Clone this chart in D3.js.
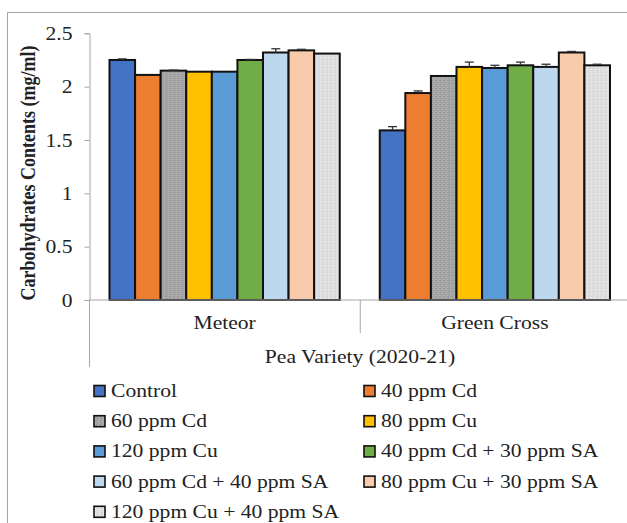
<!DOCTYPE html>
<html>
<head>
<meta charset="utf-8">
<script src="https://cdn.jsdelivr.net/npm/d3@7/dist/d3.min.js"></script>
<style>
  html, body { margin: 0; padding: 0; background: #fff; }
  svg { display: block; }
  text { font-family: "Liberation Serif", "Times New Roman", serif; fill: #222; }
</style>
</head>
<body>
<svg id="chart" width="627" height="523"></svg>
<script>
// Pea varieties on the x axis
const varieties = ["Meteor", "Green Cross"];

// Treatments (one bar per treatment in each variety)
const treatments = [
  "Control", "40 ppm Cd", "60 ppm Cd", "80 ppm Cu", "120 ppm Cu",
  "40 ppm Cd + 30 ppm SA", "60 ppm Cd + 40 ppm SA",
  "80 ppm Cu + 30 ppm SA", "120 ppm Cu + 40 ppm SA"
];

// Carbohydrate contents (mg/ml)
const meteorValues     = [2.25, 2.11, 2.15, 2.14, 2.14, 2.25, 2.32, 2.34, 2.31];
const greenCrossValues = [1.59, 1.94, 2.10, 2.185, 2.175, 2.20, 2.185, 2.32, 2.20];

// Upper error bars
const meteorErrors     = [0.01, 0.0, 0.005, 0.0, 0.0, 0.005, 0.035, 0.01, 0.0];
const greenCrossErrors = [0.035, 0.02, 0.0, 0.045, 0.025, 0.03, 0.025, 0.01, 0.01];

const yTicks = [0, 0.5, 1, 1.5, 2, 2.5];

const colors = ["#4472C4", "#ED7D31", "#A5A5A5", "#FFC000", "#5B9BD5",
                "#70AD47", "#BDD7EE", "#F8CBAD", "#DEDEDE"];

const STRETCH = 1.2;   // the chart's type is set slightly wide

const svg = d3.select("#chart");

// textures for the two grey fills
const defs = svg.append("defs");
function speckle(id, base, dots) {
  const p = defs.append("pattern").attr("id", id)
    .attr("width", 4).attr("height", 4).attr("patternUnits", "userSpaceOnUse");
  p.append("rect").attr("width", 4).attr("height", 4).attr("fill", base);
  dots.forEach(([dx, dy, c]) => p.append("rect").attr("x", dx).attr("y", dy)
    .attr("width", 1).attr("height", 1).attr("fill", c));
}
speckle("tex-grey", "#A5A5A5", [[0, 0, "#8E8E8E"], [2, 1, "#B8B8B8"], [1, 2, "#969696"], [3, 3, "#B2B2B2"]]);
speckle("tex-light", "#E0E0E0", [[1, 0, "#CACACA"], [1, 2, "#CFCFCF"], [3, 1, "#EDEDED"]]);
const fills = colors.map((c, i) => i === 2 ? "url(#tex-grey)" : i === 8 ? "url(#tex-light)" : c);

const series = treatments.map((t, i) => ({
  name: t,
  fill: fills[i],
  values: [meteorValues[i], greenCrossValues[i]],
  errors: [meteorErrors[i], greenCrossErrors[i]]
}));

// outer chart frame
svg.append("rect")
  .attr("x", 7.5).attr("y", 12.5).attr("width", 640).attr("height", 530)
  .attr("fill", "none").attr("stroke", "#A6A6A6").attr("stroke-width", 1);

const plotTop = 33.3, plotBottom = 300, plotLeft = 89.5, plotRight = 630;

const y = d3.scaleLinear().domain([0, 2.5]).range([plotBottom, plotTop]);
const x = d3.scaleBand().domain(varieties).range([plotLeft, plotRight]).paddingInner(0).paddingOuter(0);
const xInner = d3.scaleBand().domain(treatments)
  .range([x.bandwidth() * 0.074, x.bandwidth() * 0.926]).padding(0);

function sText(parent, px, py, str, anchor, size, weight) {
  const g = parent.append("g").attr("transform", `translate(${px},${py}) scale(${STRETCH},1)`);
  return g.append("text").attr("text-anchor", anchor)
    .style("font-size", size + "px").style("font-weight", weight || "normal").text(str);
}

// y axis
const yAxis = svg.append("g").attr("transform", `translate(${plotLeft},0)`)
  .call(d3.axisLeft(y).tickValues(yTicks).tickSize(5).tickPadding(0).tickFormat(d3.format("")));
yAxis.select(".domain").attr("stroke", "#A6A6A6");
yAxis.selectAll(".tick line").attr("stroke", "#A6A6A6");
yAxis.selectAll(".tick text")
  .attr("x", -17 / STRETCH).attr("dy", "0.35em")
  .attr("transform", `scale(${STRETCH},1)`)
  .style("font-size", "18px").style("font-family", "'Liberation Serif', serif").attr("fill", "#222");

// y axis title
svg.append("g").attr("transform", `translate(35,173) scale(${STRETCH},1) rotate(-90)`)
  .append("text").attr("text-anchor", "middle")
  .style("font-size", "18px").style("font-weight", "bold")
  .text("Carbohydrates Contents (mg/ml)");

// bars
const groups = svg.append("g").selectAll("g.variety").data(varieties).join("g")
  .attr("class", "variety").attr("transform", d => `translate(${x(d)},0)`);

groups.each(function (v, vi) {
  const g = d3.select(this);
  series.forEach(s => {
    g.append("rect")
      .attr("x", xInner(s.name)).attr("y", y(s.values[vi]))
      .attr("width", xInner.bandwidth()).attr("height", y(0) - y(s.values[vi]))
      .attr("fill", s.fill).attr("stroke", "#111").attr("stroke-width", 2);
  });
  series.forEach(s => {
    const e = s.errors[vi];
    if (e <= 0) return;
    const cx = xInner(s.name) + xInner.bandwidth() / 2;
    const top = y(s.values[vi] + e), base = y(s.values[vi]);
    g.append("line").attr("x1", cx).attr("x2", cx).attr("y1", base).attr("y2", top)
      .attr("stroke", "#333").attr("stroke-width", 1.3);
    g.append("line").attr("x1", cx - 4.5).attr("x2", cx + 4.5).attr("y1", top).attr("y2", top)
      .attr("stroke", "#333").attr("stroke-width", 1.3);
  });
});

// x axis line and category dividers
svg.append("line").attr("x1", plotLeft).attr("x2", plotRight).attr("y1", plotBottom).attr("y2", plotBottom)
  .attr("stroke", "#A6A6A6");
svg.append("line").attr("x1", plotLeft).attr("x2", plotLeft).attr("y1", plotBottom).attr("y2", 367)
  .attr("stroke", "#A6A6A6");
varieties.slice(1).forEach(v => {
  svg.append("line").attr("x1", x(v) + 0.5).attr("x2", x(v) + 0.5).attr("y1", plotBottom).attr("y2", 333)
    .attr("stroke", "#A6A6A6");
});
svg.append("line").attr("x1", plotRight).attr("x2", plotRight).attr("y1", plotBottom).attr("y2", 333)
  .attr("stroke", "#A6A6A6");

varieties.forEach(v => sText(svg, x(v) + x.bandwidth() / 2, 329, v, "middle", 18));
sText(svg, 360, 363, "Pea Variety (2020-21)", "middle", 18);

// legend, two columns
const legendCols = [94, 364], legendTop = 391, legendStep = 30.2;
series.forEach((s, i) => {
  const col = i % 2, row = Math.floor(i / 2);
  const lx = legendCols[col], ly = legendTop + row * legendStep;
  svg.append("rect").attr("x", lx).attr("y", ly - 5.5).attr("width", 11).attr("height", 11)
    .attr("fill", s.fill).attr("stroke", "#111").attr("stroke-width", 1.6);
  sText(svg, lx + 17, ly + 6, s.name, "start", 18);
});
</script>
</body>
</html>
